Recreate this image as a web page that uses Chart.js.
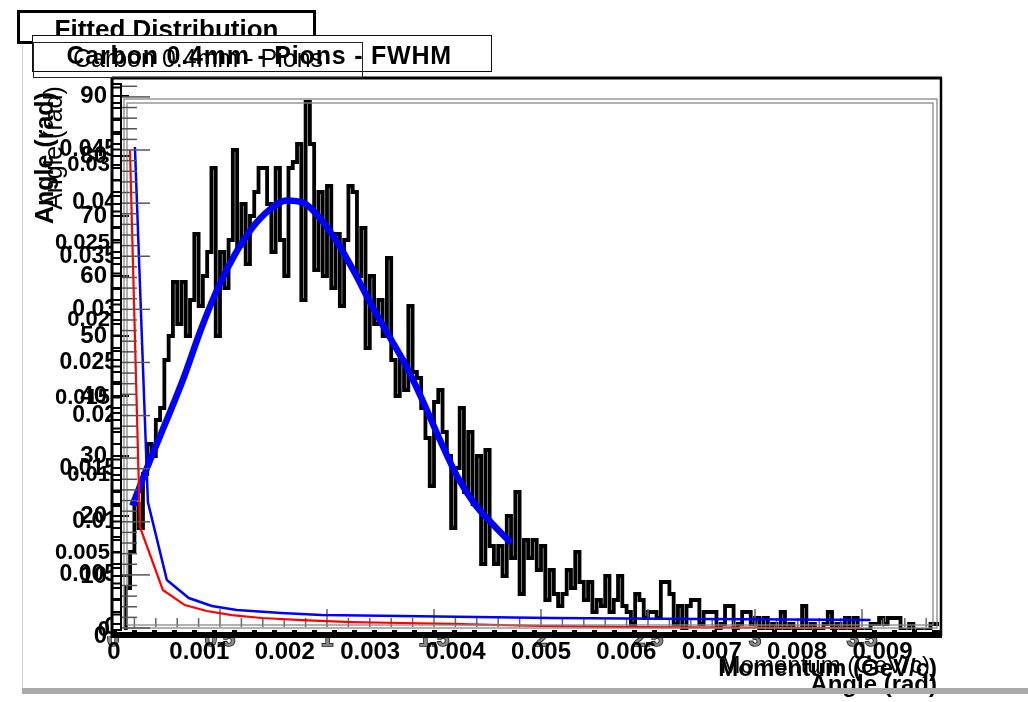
<!DOCTYPE html>
<html><head><meta charset="utf-8">
<script src="https://cdn.jsdelivr.net/npm/chart.js@4/dist/chart.umd.min.js"></script>
<style>
html,body{margin:0;padding:0;background:#fff;}
#wrap{position:relative;width:1028px;height:702px;overflow:hidden;font-family:"Liberation Sans",Arial,sans-serif;background:#fff;}
canvas{position:absolute;left:0;top:0;}
.box{position:absolute;box-sizing:border-box;}
.t{position:absolute;white-space:nowrap;line-height:1;color:#000;}
</style></head><body>
<div id="wrap">
<canvas id="cA" width="1028" height="702"></canvas>
<canvas id="cB" width="1028" height="702"></canvas>
<canvas id="cC" width="1028" height="702"></canvas>

<div style="position:absolute;left:22px;top:46px;width:1px;height:642px;background:#d0d0d0"></div>

<div class="box" style="left:17px;top:10px;width:299px;height:34px;border:3px solid #000;background:#fff"></div>
<div class="t" style="left:17px;width:299px;text-align:center;top:16px;font-size:26px;font-weight:bold">Fitted Distribution</div>
<div class="box" style="left:32px;top:35px;width:460px;height:37px;border:1.5px solid #111;background:#fff"></div>
<div class="t" style="left:0;width:452px;text-align:right;top:42.7px;font-size:25px;font-weight:bold;letter-spacing:0.8px">Carbon 0.4mm - Pions - FWHM</div>
<div class="box" style="left:33px;top:42px;width:330px;height:36px;border:1.5px solid #222"></div>
<div class="t" style="left:33px;width:330px;text-align:center;top:45.5px;font-size:25px;">Carbon 0.4mm - Pions</div>

<div class="t" style="left:44px;top:158px;transform:translate(-50%,-50%) rotate(-90deg);font-size:25px;font-weight:bold">Angle (rad)</div>
<div class="t" style="left:53px;top:148px;transform:translate(-50%,-50%) rotate(-90deg);font-size:25px;">Angle (rad)</div>

<div class="t" style="left:0;width:937px;text-align:right;top:656px;font-size:24px;font-weight:bold">Momentum (GeV/c)</div>
<div class="t" style="left:0;width:930px;text-align:right;top:653px;font-size:24px;">Momentum (GeV/c)</div>
<div class="t" style="left:0;width:937px;text-align:right;top:672px;font-size:24px;font-weight:bold">Angle (rad)</div>
<div style="position:absolute;left:22px;top:688px;width:1006px;height:6px;background:#aaaaaa"></div>
</div>
<script>
// ---------------- data ----------------
const momentumBinWidth = 0.02; // GeV/c per histogram bin
const histCounts = [0,0,0,0,8,14,22,18,27,32,30,36,38,46,50,59,52,59,50,56,
67,55,60,64,78,50,64,58,66,81,65,72,62,70,74,78,78,72,64,78,
66,60,78,79,82,56,89,82,61,74,60,75,58,67,55,66,75,74,60,68,
48,60,52,56,50,63,46,40,46,41,55,44,43,38,33,25,39,41,34,30,
18,28,38,24,34,22,30,12,31,15,12,15,10,20,13,24,7,16,13,16,
11,15,6,11,7,5,7,11,8,14,9,6,9,4,6,5,10,4,6,10,
5,4,2,7,6,3,4,4,3,9,9,7,2,5,1,5,6,6,2,4,
4,4,1,2,5,5,1,2,4,4,2,3,1,3,1,2,1,4,1,2,
1,1,5,1,2,1,1,2,4,1,2,1,3,1,3,1,0,1,2,2,
3,2,3,3,3,1,0,2,0,1,0,1,2];
const fitMomentum = [0.09,0.17,0.25,0.33,0.41,0.49,0.57,0.65,0.73,0.81,0.89,0.97,1.05,1.13,1.21,1.29,1.37,1.45,1.53,1.61,1.69,1.77,1.86];
const fitCounts   = [21.7,29.0,35.9,43.0,51.0,58.0,63.6,68.0,71.0,72.6,72.2,69.5,65.5,60.5,55.0,50.0,45.0,39.0,32.5,26.5,22.0,18.8,15.5];
const redAngle  = [0.000187,0.000304,0.000572,0.000829,0.001086,0.00138,0.00173,0.0022,0.00278,0.00336,0.00395,0.005,0.00617,0.00874];
const redSpread = [0.0450,0.00951,0.00358,0.00216,0.00160,0.00122,0.00094,0.00075,0.00056,0.00047,0.00038,0.00019,0.00009,0.0];
const blueAngle  = [0.000245,0.000397,0.000619,0.000876,0.001145,0.001437,0.00196,0.00243,0.00336,0.00512,0.00687,0.00886];
const blueSpread = [0.04528,0.01186,0.00452,0.00282,0.00207,0.00169,0.00141,0.00122,0.00113,0.00094,0.00085,0.00075];
const momentumRange = [0, 3.8645];
const countsRange = [0, 93];
const angleRange = [-0.0000117, 0.009673];
const spreadRangeA = [-0.000753, 0.05178];
const spreadRangeB = [-0.000387, 0.035613];

// ---------------- helpers ----------------
const FONT = '"Liberation Sans", Arial, sans-serif';
const fmt = v => String(parseFloat(Number(v).toFixed(4)));
const PAD = {left:0, top:78, right:88, bottom:0};
const W_LEFT = 113, H_BOTTOM = 66;
function line(ctx,x1,y1,x2,y2){ctx.beginPath();ctx.moveTo(x1,y1);ctx.lineTo(x2,y2);ctx.stroke();}
const baseOpts = {responsive:false, animation:false, devicePixelRatio:1,
  layout:{padding:PAD}, plugins:{legend:{display:false}, tooltip:{enabled:false}, title:{display:false}}};

const histPoints = histCounts.map((c,i)=>({x:i*momentumBinWidth, y:c}));
histPoints.push({x:histCounts.length*momentumBinWidth, y:histCounts[histCounts.length-1]});
const fitPoints = fitMomentum.map((p,i)=>({x:p, y:fitCounts[i]}));
const redPoints = redAngle.map((a,i)=>({x:a, y:redSpread[i]}));
const bluePoints = blueAngle.map((a,i)=>({x:a, y:blueSpread[i]}));

// ---------------- chart A: momentum histogram ----------------
const frameA = {id:'frameA', afterDraw(chart){
  const {ctx, chartArea:a, scales:{x,y}} = chart;
  ctx.save();
  ctx.strokeStyle='#000';
  ctx.lineWidth=3; line(ctx,a.left-1,a.top-1,a.left-1,a.bottom+2);
  line(ctx,a.left-1,a.top,a.right+2,a.top);
  ctx.lineWidth=2.5; line(ctx,a.right+1,a.top,a.right+1,a.bottom);
  ctx.fillStyle='#000'; ctx.fillRect(a.left-2,a.bottom-6,a.right-a.left+4,8);
  ctx.strokeStyle='#fff'; ctx.lineWidth=2; ctx.setLineDash([15,5]);
  line(ctx,a.left+4,a.bottom-5,a.right-4,a.bottom-5); ctx.setLineDash([]);
  ctx.strokeStyle='#000'; ctx.lineWidth=2;
  line(ctx,a.left+8,a.top+6,a.left+8,a.bottom-6);
  for(let c=0;c<=y.max;c+=2){const py=y.getPixelForValue(c); ctx.lineWidth=2; line(ctx,a.left,py,a.left+(c%10===0?16:9),py);}
  ctx.strokeStyle='#666'; ctx.lineWidth=1.5;
  for(let k=1;k*0.1<x.max;k++){const px=x.getPixelForValue(k*0.1); const len=(k%5===0)?18:9; line(ctx,px,a.bottom-9,px,a.bottom-9-len);}
  ctx.restore();
}};
new Chart(document.getElementById('cA'), {
  type:'line',
  data:{datasets:[
    {data:fitPoints, borderColor:'#0000ff', borderWidth:6.5, pointRadius:0, cubicInterpolationMode:'monotone', fill:false, order:1},
    {data:histPoints, borderColor:'#000', borderWidth:3.8, stepped:'after', pointRadius:0, fill:false, order:2, borderJoinStyle:'miter'}
  ]},
  options:Object.assign({}, baseOpts, {scales:{
    x:{type:'linear', min:momentumRange[0], max:momentumRange[1], position:'bottom', afterFit:s=>{s.height=H_BOTTOM;},
       grid:{display:false, drawTicks:false}, border:{display:false},
       ticks:{stepSize:0.5, includeBounds:false, autoSkip:false, maxRotation:0, padding:-9,
              font:{family:FONT,size:22,weight:'bold'}, color:'#888', textStrokeColor:'#111', textStrokeWidth:1.5, callback:v=>fmt(v)}},
    y:{type:'linear', min:countsRange[0], max:countsRange[1], position:'left', afterFit:s=>{s.width=W_LEFT;},
       grid:{display:false, drawTicks:false}, border:{display:false},
       ticks:{stepSize:10, includeBounds:false, autoSkip:false, padding:6,
              font:{family:FONT,size:24,weight:'bold'}, color:'#000', callback:v=>fmt(v)}}
  }}),
  plugins:[frameA]
});

// ---------------- chart B: angle spread curves ----------------
const frameB = {id:'frameB', afterDraw(chart){
  const {ctx, chartArea:a, scales:{x,y}} = chart;
  ctx.save();
  ctx.strokeStyle='#888'; ctx.lineWidth=1.3;
  ctx.strokeRect(a.left+11,a.top+21,(a.right-3)-(a.left+11),(a.bottom-8)-(a.top+21));
  ctx.strokeRect(a.left+14,a.top+25,(a.right-7)-(a.left+14),(a.bottom-11)-(a.top+25));
  ctx.strokeStyle='#555'; ctx.lineWidth=1.5;
  for(let k=0;k*0.001<=y.max;k++){const py=y.getPixelForValue(k*0.001); if(py<a.top+3) continue;
    line(ctx,a.left+9,py,a.left+(k%5===0?37:24),py);}
  ctx.restore();
}};
new Chart(document.getElementById('cB'), {
  type:'line',
  data:{datasets:[
    {data:bluePoints, borderColor:'#0000ff', borderWidth:2.5, pointRadius:0, tension:0, fill:false},
    {data:redPoints, borderColor:'#ff0000', borderWidth:2.2, pointRadius:0, tension:0, fill:false}
  ]},
  options:Object.assign({}, baseOpts, {scales:{
    x:{type:'linear', min:angleRange[0], max:angleRange[1], position:'bottom', afterFit:s=>{s.height=H_BOTTOM;},
       grid:{display:false, drawTicks:false}, border:{display:false},
       ticks:{stepSize:0.001, includeBounds:false, autoSkip:false, maxRotation:0, padding:2,
              font:{family:FONT,size:24,weight:'bold'}, color:'#000', callback:v=>fmt(v)}},
    y:{type:'linear', min:spreadRangeA[0], max:spreadRangeA[1], position:'left', afterFit:s=>{s.width=W_LEFT;},
       grid:{display:false, drawTicks:false}, border:{display:false},
       ticks:{stepSize:0.005, includeBounds:false, autoSkip:false, padding:-4,
              font:{family:FONT,size:23,weight:'bold'}, color:'#000', callback:v=>(v>0.0455?'':fmt(v))}}
  }}),
  plugins:[frameB]
});

// ---------------- chart C: second angle-spread axis ----------------
const frameC = {id:'frameC', afterDraw(chart){
  const {ctx, chartArea:a, scales:{y}} = chart;
  ctx.save();
  ctx.strokeStyle='#000'; ctx.lineWidth=2;
  for(let k=0;k*0.001<=y.max;k++){const py=y.getPixelForValue(k*0.001); line(ctx,a.left,py,a.left+9,py);}
  ctx.restore();
}};
new Chart(document.getElementById('cC'), {
  type:'line',
  data:{datasets:[]},
  options:Object.assign({}, baseOpts, {layout:{padding:{left:0,top:78,right:88,bottom:H_BOTTOM}}, scales:{
    x:{type:'linear', min:0, max:1, display:false},
    y:{type:'linear', min:spreadRangeB[0], max:spreadRangeB[1], position:'left', afterFit:s=>{s.width=W_LEFT;},
       grid:{display:false, drawTicks:false}, border:{display:false},
       ticks:{stepSize:0.005, includeBounds:false, autoSkip:false, padding:3,
              font:{family:FONT,size:22,weight:'bold'}, color:'#000', callback:v=>(v>0.031?'':fmt(v))}}
  }}),
  plugins:[frameC]
});
</script>
</body></html>
